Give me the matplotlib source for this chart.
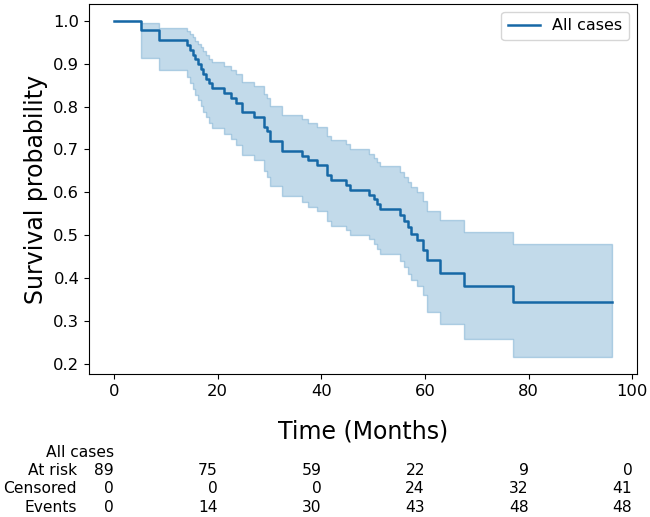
import numpy as np
import matplotlib
matplotlib.use("Agg")
import matplotlib.pyplot as plt
from matplotlib.transforms import blended_transform_factory

# kaplan meier steps (time in months)
times = [0, 5.2, 8.6, 14.0, 14.6, 15.2, 15.7, 16.2, 16.7, 17.2, 17.7, 18.3, 19.0,
         21.3, 22.5, 23.6, 24.7, 27.0, 29.0, 29.6, 30.2, 32.4, 36.3, 37.4, 39.2,
         41.1, 41.8, 44.7, 45.6, 49.2, 50.2, 50.8, 51.4,
         55.2, 56.0, 56.8, 57.4, 58.4, 59.6, 60.3,
         62.9, 67.5, 77.0, 96.1]
surv = [1.0, 0.978, 0.955, 0.944, 0.933, 0.921, 0.910, 0.899, 0.888, 0.876, 0.865, 0.854, 0.843,
        0.831, 0.820, 0.809, 0.787, 0.775, 0.753, 0.742, 0.719, 0.697, 0.685, 0.674, 0.663,
        0.640, 0.629, 0.617, 0.606, 0.594, 0.583, 0.572, 0.561,
        0.547, 0.532, 0.518, 0.503, 0.488, 0.465, 0.441,
        0.411, 0.380, 0.343, 0.343]
ci_lower = [1.0, 0.913, 0.885, 0.870, 0.856, 0.842, 0.828, 0.815, 0.801, 0.788, 0.775, 0.762, 0.749,
            0.736, 0.724, 0.711, 0.686, 0.674, 0.650, 0.635, 0.614, 0.590, 0.578, 0.566, 0.555,
            0.532, 0.522, 0.512, 0.500, 0.490, 0.480, 0.468, 0.455,
            0.440, 0.425, 0.410, 0.395, 0.380, 0.360, 0.321,
            0.292, 0.258, 0.215, 0.215]
ci_upper = [1.0, 0.994, 0.983, 0.976, 0.969, 0.962, 0.954, 0.946, 0.938, 0.930, 0.921, 0.912, 0.904,
            0.895, 0.886, 0.877, 0.858, 0.849, 0.830, 0.820, 0.801, 0.781, 0.771, 0.761, 0.751,
            0.732, 0.722, 0.712, 0.700, 0.690, 0.680, 0.670, 0.660,
            0.648, 0.636, 0.624, 0.612, 0.600, 0.580, 0.555,
            0.534, 0.508, 0.478, 0.478]

# at risk table
table_ticks = [0, 20, 40, 60, 80, 100]
at_risk = [89, 75, 59, 22, 9, 0]
censored = [0, 0, 0, 24, 32, 41]
events = [0, 14, 30, 43, 48, 48]

label = "All cases"
line_color = "#1668a6"
band_color = "#1f77b4"
tick_size = 11.8
table_size = 11.2

fig = plt.figure(figsize=(6.5, 5.17), dpi=100)
ax = fig.add_axes([0.137, 0.2766, 0.843, 0.7157])

ax.fill_between(times, ci_lower, ci_upper, step="post", color=band_color, alpha=0.27, linewidth=1.0)
ax.step(times, surv, where="post", color=line_color, linewidth=1.8, label=label)

ax.set_xticks(table_ticks)
ax.set_yticks(np.arange(0.2, 1.01, 0.1))
ax.tick_params(labelsize=tick_size)
ax.set_xlabel("Time (Months)", fontsize=17, labelpad=15)
ax.set_ylabel("Survival probability", fontsize=17)
ax.legend(loc="upper right", fontsize=11.5)

# table under the axis: numbers right aligned on the ticks
trans = blended_transform_factory(ax.transData, fig.transFigure)
row_y = [0.0909, 0.0542, 0.0193]
rows = [("At risk", at_risk), ("Censored", censored), ("Events", events)]
ax.text(0, 0.1257, label, transform=trans, ha="right", va="center", fontsize=table_size, clip_on=False)
for (name, vals), y in zip(rows, row_y):
    fig.text(0.1185, y, name, ha="right", va="center", fontsize=table_size)
    for t, v in zip(table_ticks, vals):
        ax.text(t, y, str(v), transform=trans, ha="right", va="center", fontsize=table_size, clip_on=False)

fig.savefig("out.png", dpi=100)
